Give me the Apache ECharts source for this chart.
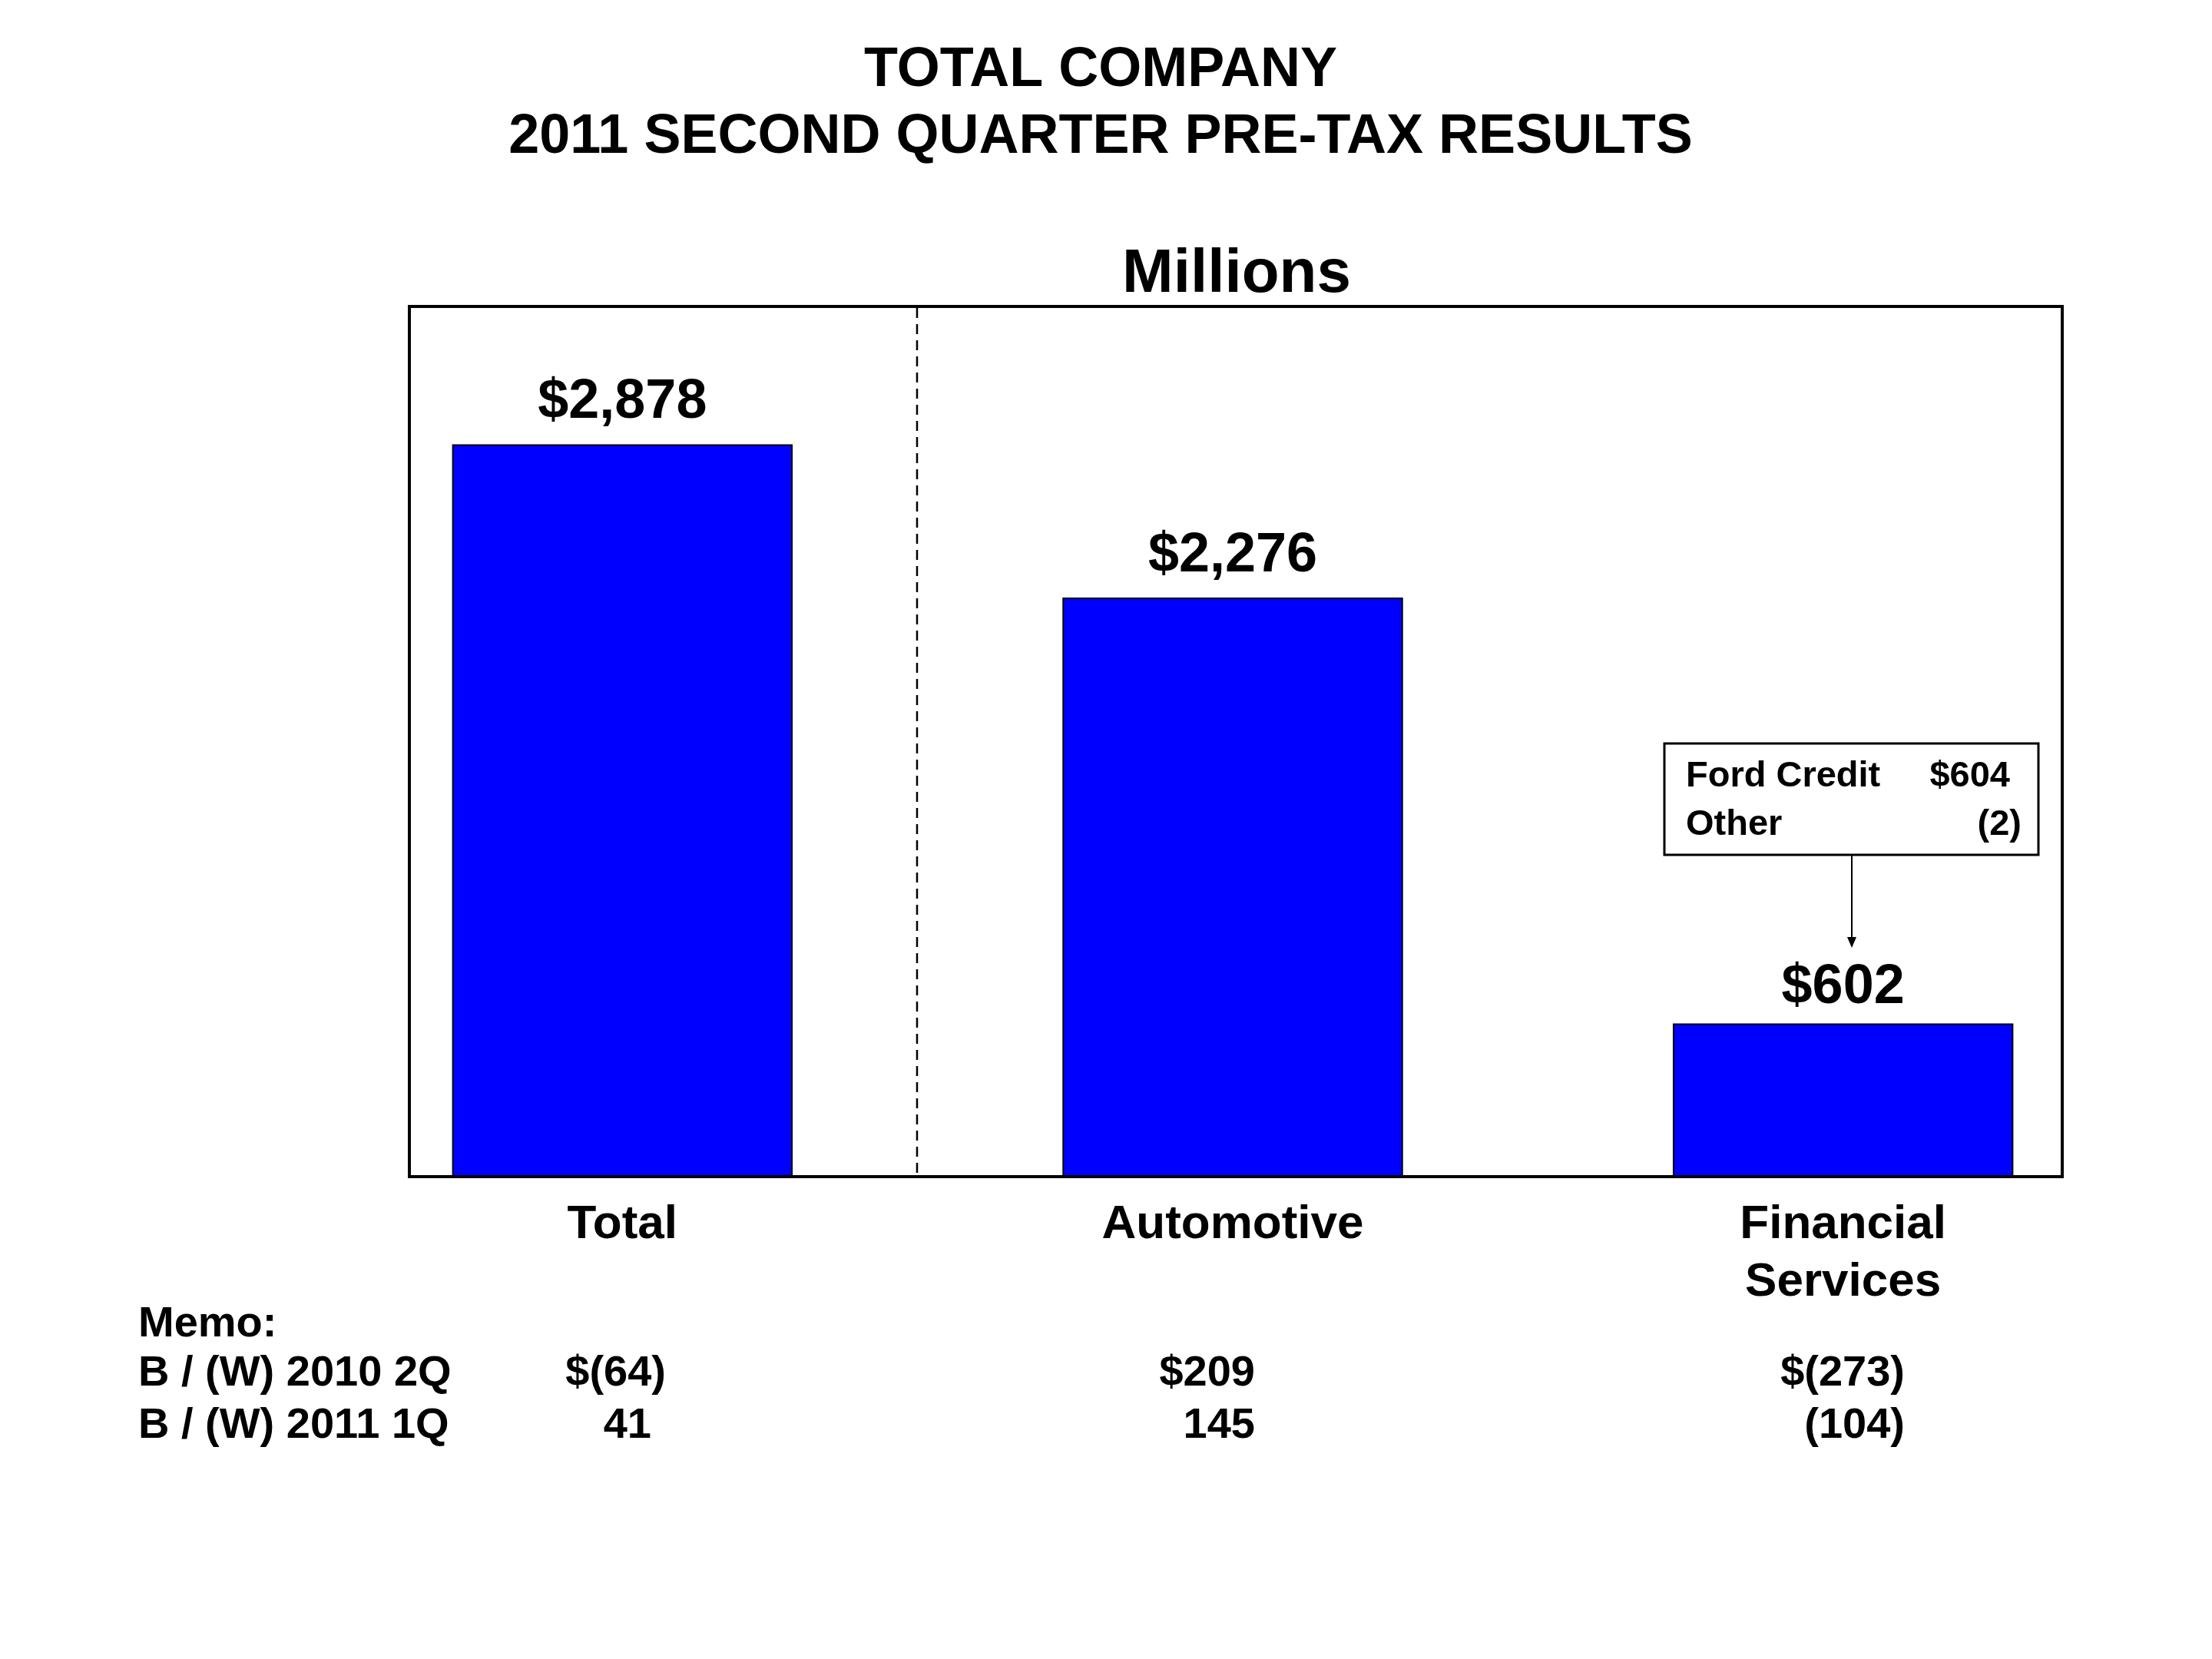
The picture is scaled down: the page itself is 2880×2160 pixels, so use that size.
<!DOCTYPE html>
<html>
<head>
<meta charset="utf-8">
<script src="https://cdn.jsdelivr.net/npm/echarts@6/dist/echarts.min.js"></script>
<style>
html,body{margin:0;padding:0;background:#fff;}
#chart{width:2880px;height:2160px;}
</style>
</head>
<body>
<div id="chart"></div>
<script>
// ---- data ----
const categories = ['Total', 'Automotive', 'Financial\nServices'];
const pretaxValues = [2878, 2276, 602];
const memoRowLabels = ['B / (W) 2010 2Q', 'B / (W) 2011 1Q'];
const memoVs2010Q2 = [-64, 209, -273];
const memoVs2011Q1 = [41, 145, -104];
const calloutLabels = ['Ford Credit', 'Other'];
const calloutValues = [604, -2];

const FONT = '"Liberation Sans", Arial, sans-serif';

function fmt(v, dollar) {
  const a = Math.abs(v).toLocaleString('en-US');
  return (dollar ? '$' : '') + (v < 0 ? '(' + a + ')' : a);
}

const chart = echarts.init(document.getElementById('chart'));

// memo table texts
const memoColX = [867, 1653, 2480];
const memoRowsY = [1789, 1857];
const memoFont = 56;
const parenW = 19;
const graphics = [];

// plot frame
graphics.push({
  type: 'rect', z: 0,
  shape: {x: 533, y: 399, width: 2152, height: 1133},
  style: {fill: null, stroke: '#000', lineWidth: 4}
});
// dashed separator
graphics.push({
  type: 'line', z: 1,
  shape: {x1: 1194, y1: 401, x2: 1194, y2: 1530},
  style: {stroke: '#000', lineWidth: 2.5, lineDash: [13, 8]}
});

graphics.push({
  type: 'text', x: 180, y: 1725,
  style: {text: 'Memo:', font: 'bold ' + memoFont + 'px ' + FONT, fill: '#000', textAlign: 'left', textVerticalAlign: 'middle'}
});
[memoVs2010Q2, memoVs2011Q1].forEach(function (row, r) {
  graphics.push({
    type: 'text', x: 180, y: memoRowsY[r],
    style: {text: memoRowLabels[r], font: 'bold ' + memoFont + 'px ' + FONT, fill: '#000', textAlign: 'left', textVerticalAlign: 'middle'}
  });
  row.forEach(function (v, c) {
    graphics.push({
      type: 'text', x: memoColX[c] - (v < 0 ? 0 : parenW), y: memoRowsY[r],
      style: {text: fmt(v, r === 0), font: 'bold ' + memoFont + 'px ' + FONT, fill: '#000', textAlign: 'right', textVerticalAlign: 'middle'}
    });
  });
});

// callout box
graphics.push({
  type: 'rect', z: 5,
  shape: {x: 2167, y: 968, width: 487, height: 145},
  style: {fill: '#fff', stroke: '#000', lineWidth: 3}
});
const calloutY = [1011, 1074];
calloutLabels.forEach(function (lab, i) {
  const v = calloutValues[i];
  graphics.push({
    type: 'text', z: 6, x: 2195, y: calloutY[i],
    style: {text: lab, font: 'bold 47px ' + FONT, fill: '#000', textAlign: 'left', textVerticalAlign: 'middle'}
  });
  graphics.push({
    type: 'text', z: 6, x: 2632 - (v < 0 ? 0 : 15), y: calloutY[i],
    style: {text: fmt(v, i === 0), font: 'bold 47px ' + FONT, fill: '#000', textAlign: 'right', textVerticalAlign: 'middle'}
  });
});
graphics.push({
  type: 'line', z: 6,
  shape: {x1: 2411, y1: 1113, x2: 2411, y2: 1222},
  style: {stroke: '#000', lineWidth: 2}
});
graphics.push({
  type: 'polygon', z: 6,
  shape: {points: [[2405, 1220], [2417, 1220], [2411, 1234]]},
  style: {fill: '#000'}
});

const labelDistances = [18, 18, 10];

chart.setOption({
  backgroundColor: '#fff',
  animation: false,
  title: [
    {
      text: 'TOTAL COMPANY\n2011 SECOND QUARTER PRE-TAX RESULTS',
      left: 1428, top: 44, textAlign: 'center',
      textStyle: {fontFamily: FONT, fontWeight: 'bold', fontSize: 72, lineHeight: 87, color: '#000'}
    },
    {
      text: 'Millions',
      left: 1605, top: 313, textAlign: 'center',
      textStyle: {fontFamily: FONT, fontWeight: 'bold', fontSize: 80, lineHeight: 80, color: '#000'}
    }
  ],
  grid: {left: 413, right: 83, top: 399, bottom: 628, containLabel: false},
  xAxis: {
    type: 'category',
    data: categories,
    axisLine: {show: false},
    axisTick: {show: false},
    axisLabel: {
      margin: 25,
      fontFamily: FONT, fontWeight: 'bold', fontSize: 62, lineHeight: 75, color: '#000'
    }
  },
  yAxis: {
    type: 'value', min: 0, max: 3420, show: false,
    splitLine: {show: false}
  },
  series: [{
    type: 'bar',
    data: pretaxValues.map(function (v, i) {
      return {value: v, label: {distance: labelDistances[i]}};
    }),
    barWidth: '55.8%',
    z: 3,
    itemStyle: {color: '#0000FF', borderColor: '#000', borderWidth: 2},
    label: {
      show: true, position: 'top',
      formatter: function (p) { return fmt(p.value, true); },
      fontFamily: FONT, fontWeight: 'bold', fontSize: 72, color: '#000'
    }
  }],
  graphic: graphics
});
</script>
</body>
</html>
